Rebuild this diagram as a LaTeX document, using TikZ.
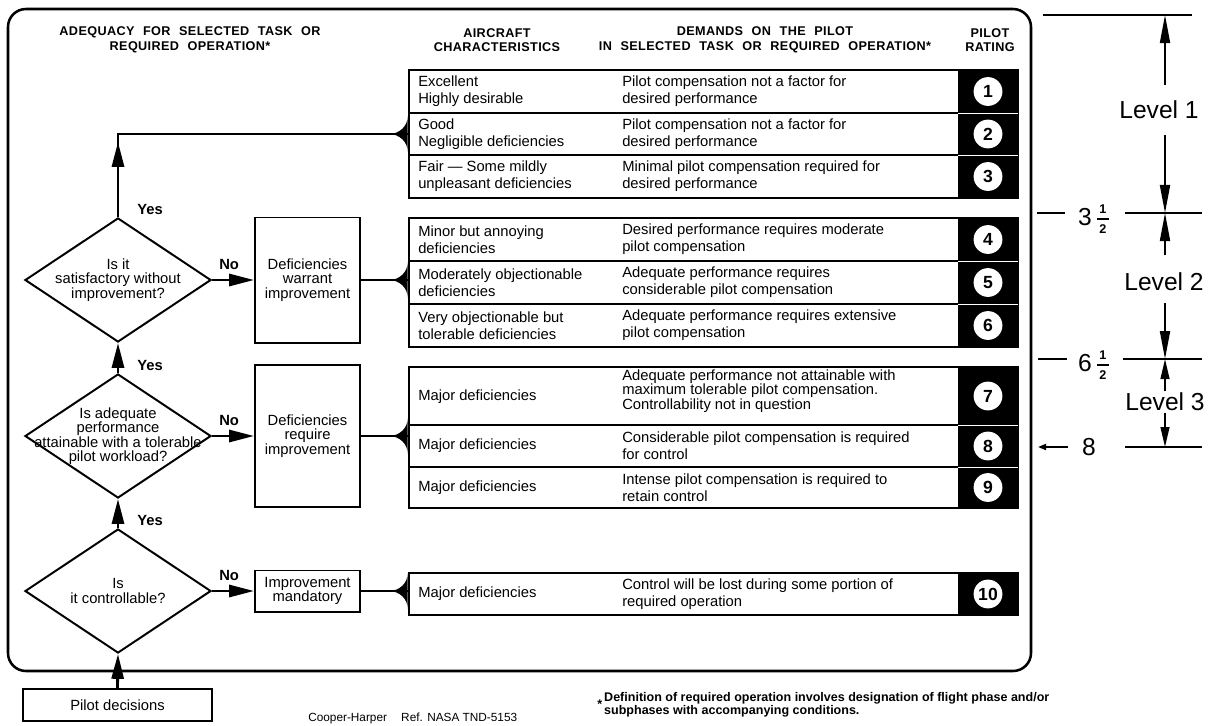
\documentclass[tikz,border=0pt]{standalone}
\usepackage{fontspec}
\setmainfont{Liberation Sans}
\newfontfamily\hdfont{Liberation Sans}[LetterSpace=3,WordSpace=2.2]
\usetikzlibrary{shapes.geometric}
\usetikzlibrary{arrows.meta}
\usetikzlibrary{positioning}

\begin{document}
\begin{tikzpicture}[x=0.025cm, y=-0.025cm,
	decision/.style={diamond, draw, line width=1.4pt, minimum width=4.65cm, minimum height=3.1cm, inner sep=0pt},
	qtext/.style={align=center, inner sep=0pt, font=\fontsize{10.5}{10.3}\selectfont},
	box/.style={draw, line width=1.4pt, minimum width=2.625cm, align=center, inner sep=0pt, font=\fontsize{10.5}{10.3}\selectfont},
	grp/.style={draw, line width=1.7pt, minimum width=15.225cm, inner sep=0pt},
	ctxt/.style={anchor=west, align=left, inner sep=0pt, font=\fontsize{10.5}{12.1}\selectfont},
	rnum/.style={circle, fill=white, minimum size=0.72cm, inner sep=0pt, font=\fontsize{12.5}{12.5}\selectfont\bfseries},
	hdr/.style={align=center, inner sep=0pt, font=\hdfont\fontsize{9}{10.3}\selectfont\bfseries},
	lbl/.style={inner sep=0pt, font=\fontsize{10.5}{12}\selectfont\bfseries},
	flow/.style={line width=2pt},
	arr/.style={flow, -{Triangle[length=0.62cm, width=0.3cm]}},
	lvl/.style={inner sep=1pt, font=\fontsize{17.5}{17.5}\selectfont},
	half/.style={inner sep=0pt, font=\fontsize{9}{9}\selectfont\bfseries},
	sline/.style={line width=1.3pt},
	sarr/.style={sline, -{Triangle[length=0.7cm, width=0.25cm]}},
	pics/brk/.style={code={
		\fill (-19,0) .. controls (-8,0) and (0,-8) .. (0,-18) -- (0,18) .. controls (0,8) and (-8,0) .. (-19,0) -- cycle;}}]

\useasboundingbox (0,0) rectangle (1209,725);

% Rahmen
\draw[line width=1.8pt, rounded corners=0.45cm] (8,9) rectangle (1031,671);

% Kopfzeile
\node[hdr] (h1) at (190,40) {ADEQUACY FOR SELECTED TASK OR\\REQUIRED OPERATION*};
\node[hdr] (h2) at (497,40) {AIRCRAFT\\CHARACTERISTICS};
\node[hdr] (h3) at (765,40) {DEMANDS ON THE PILOT\\IN SELECTED TASK OR REQUIRED OPERATION*};
\node[hdr] (h4) at (990,40) {PILOT\\RATING};

% Entscheidungen
\node[decision] (d1) at (118,280) {};
\node[qtext] (d1t) at (d1) {Is it\\satisfactory without\\improvement?};
\node[decision] (d2) at (118,436) {};
\node[qtext] (d2t) at (d2) {Is adequate\\performance\\attainable with a tolerable\\pilot workload?};
\node[decision] (d3) at (118,591) {};
\node[qtext] (d3t) at (d3) {Is\\it controllable?};
\node[box, minimum width=4.725cm, minimum height=0.8cm] (pd) at (117.5,705) {Pilot decisions};

% Kaestchen
\node[box, minimum height=3.125cm] (w1) at (307.5,280) {Deficiencies\\warrant\\improvement};
\node[box, minimum height=3.55cm] (w2) at (307.5,436) {Deficiencies\\require\\improvement};
\node[box, minimum height=1.025cm] (w3) at (307.5,591) {Improvement\\mandatory};

% Tabelle
\node[grp, minimum height=3.2cm] (g1) at (713.5,134) {};
\node[grp, minimum height=3.225cm] (g2) at (713.5,282.5) {};
\node[grp, minimum height=3.525cm] (g3) at (713.5,437.5) {};
\node[grp, minimum height=1.05cm] (g4) at (713.5,594) {};

% Pfeile links
\draw[arr] (pd.north) -- (d3.south);
\draw[arr] (d3.north) -- (d2.south);
\draw[arr] (d2.north) -- (d1.south);
\draw[flow] (d1.north) |- (g1.west);
\draw[arr, shorten >=0.2cm] (d1.north) -- (d1.north |- g1.west);
\draw[arr] (d1.east) -- (w1.west);
\draw[arr] (d2.east) -- (w2.west);
\draw[arr] (d3.east) -- (w3.west);
\node[lbl, above right=0.05cm and 0.475cm of d1.north] (y1) {Yes};
\node[lbl, above right=0.05cm and 0.475cm of d2.north] (y2) {Yes};
\node[lbl, above right=0.05cm and 0.475cm of d3.north] (y3) {Yes};
\node[lbl, above right=0.24cm and 0.175cm of d1.east] (n1) {No};
\node[lbl, above right=0.24cm and 0.175cm of d2.east] (n2) {No};
\node[lbl, above right=0.24cm and 0.175cm of d3.east] (n3) {No};

% Klammern
\draw[flow] (w1.east) -- (w1.east -| g2.west);
\draw[flow] (w2.east) -- (w2.east -| g3.west);
\draw[flow] (w3.east) -- (w3.east -| g4.west);
\pic at (g1.west) {brk};
\pic at (w1.east -| g2.west) {brk};
\pic at (w2.east -| g3.west) {brk};
\pic at (w3.east -| g4.west) {brk};

\fill (958,70) rectangle (1018,198);
\fill (958,218) rectangle (1018,347);
\fill (958,367) rectangle (1018,508);
\fill (958,573) rectangle (1018,615);

\begin{scope}[line width=1.1pt]
	\draw (409,113) -- (958,113);
	\draw (409,155) -- (958,155);
	\draw (409,261) -- (958,261);
	\draw (409,304) -- (958,304);
	\draw (409,425) -- (958,425);
	\draw (409,467) -- (958,467);
\end{scope}
\begin{scope}[draw=white, line width=0.6pt]
	\draw (958,113) -- (1018,113);
	\draw (958,155) -- (1018,155);
	\draw (958,261) -- (1018,261);
	\draw (958,304) -- (1018,304);
	\draw (958,425) -- (1018,425);
	\draw (958,467) -- (1018,467);
\end{scope}

\node[ctxt] (a1) at (418,91.5) {Excellent\\Highly desirable};
\node[ctxt] (b1) at (622,91.5) {Pilot compensation not a factor for\\desired performance};
\node[rnum] (r1) at (988,91.5) {1};
\node[ctxt] (a2) at (418,134) {Good\\Negligible deficiencies};
\node[ctxt] (b2) at (622,134) {Pilot compensation not a factor for\\desired performance};
\node[rnum] (r2) at (988,134) {2};
\node[ctxt] (a3) at (418,176.5) {Fair --- Some mildly\\unpleasant deficiencies};
\node[ctxt] (b3) at (622,176.5) {Minimal pilot compensation required for\\desired performance};
\node[rnum] (r3) at (988,176.5) {3};

\node[ctxt] (a4) at (418,239.5) {Minor but annoying\\deficiencies};
\node[ctxt] (b4) at (622,239.5) {Desired performance requires moderate\\pilot compensation};
\node[rnum] (r4) at (988,239.5) {4};
\node[ctxt] (a5) at (418,282.5) {Moderately objectionable\\deficiencies};
\node[ctxt] (b5) at (622,282.5) {Adequate performance requires\\considerable pilot compensation};
\node[rnum] (r5) at (988,282.5) {5};
\node[ctxt] (a6) at (418,325.5) {Very objectionable but\\tolerable deficiencies};
\node[ctxt] (b6) at (622,325.5) {Adequate performance requires extensive\\pilot compensation};
\node[rnum] (r6) at (988,325.5) {6};

\node[ctxt] (a7) at (418,397) {Major deficiencies};
\node[ctxt, font=\fontsize{10.5}{10.3}\selectfont] (b7) at (622,391) {Adequate performance not attainable with\\maximum tolerable pilot compensation.\\Controllability not in question};
\node[rnum] (r7) at (988,396) {7};
\node[ctxt] (a8) at (418,446) {Major deficiencies};
\node[ctxt] (b8) at (622,446) {Considerable pilot compensation is required\\for control};
\node[rnum] (r8) at (988,446) {8};
\node[ctxt] (a9) at (418,487.5) {Major deficiencies};
\node[ctxt] (b9) at (622,487.5) {Intense pilot compensation is required to\\retain control};
\node[rnum] (r9) at (988,487.5) {9};

\node[ctxt] (a10) at (418,594) {Major deficiencies};
\node[ctxt] (b10) at (622,594) {Control will be lost during some portion of\\required operation};
\node[rnum] (r10) at (988,594) {10};

% Level-Skala
\coordinate (v0) at (1165,15);
\coordinate (v35) at (1165,213);
\coordinate (v65) at (1165,359);
\coordinate (v8) at (1165,447);
\draw[sline] (1043,15) -- (1192,15);
\draw[sline] (1037,213) -- (1065,213);
\draw[sline] (1125,213) -- (1202,213);
\draw[sline] (1038,359) -- (1067,359);
\draw[sline] (1123,359) -- (1202,359);
\draw[sline, -{Triangle[length=0.2cm, width=0.15cm]}] (1068,447) -- (1038,447);
\draw[sline] (1125,447) -- (1202,447);

\node[lvl] (f35) at (1085,217) {3};
\node[half] (u35) at (1103,209) {1};
\node[half] (l35) at (1103,229) {2};
\draw[line width=0.9pt] (1097,219) -- (1109,219);
\node[lvl] (f65) at (1085,363) {6};
\node[half] (u65) at (1103,355) {1};
\node[half] (l65) at (1103,375) {2};
\draw[line width=0.9pt] (1097,365) -- (1109,365);
\node[lvl] (f8) at (1089,447) {8};

\node[lvl] (lv1) at (1159,110) {Level 1};
\node[lvl] (lv2) at (1164,282) {Level 2};
\node[lvl] (lv3) at (1165,402) {Level 3};
\draw[sarr, shorten <=0.35cm] (v0 |- lv1.north) -- (v0);
\draw[sarr, shorten <=0.35cm] (v0 |- lv1.south) -- (v35);
\draw[sarr, shorten <=0.4cm] (v0 |- lv2.north) -- (v35);
\draw[sarr, shorten <=0.25cm] (v0 |- lv2.south) -- (v65);
\draw[sline, -{Triangle[length=0.5cm, width=0.22cm]}] (v0 |- lv3.north) -- (v65);
\draw[sline, -{Triangle[length=0.5cm, width=0.22cm]}] (v0 |- lv3.south) -- (v8);

% Fusszeile
\node[anchor=west, inner sep=0pt, font=\fontsize{8.4}{9}\selectfont] (ref) at (308,718) {Cooper-Harper\hspace{1.2em}Ref. NASA TND-5153};
\node[anchor=west, inner sep=0pt, font=\fontsize{8.9}{9.2}\selectfont\bfseries] (note) at (597,705.5) {*\,\begin{tabular}[c]{@{}l@{}}Definition of required operation involves designation of flight phase and/or\\subphases with accompanying conditions.\end{tabular}};

\end{tikzpicture}
\end{document}
